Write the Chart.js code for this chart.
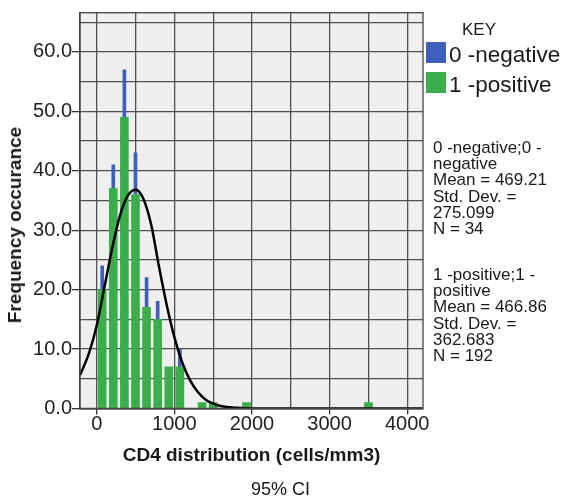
<!DOCTYPE html>
<html>
<head>
<meta charset="utf-8">
<script src="https://cdn.jsdelivr.net/npm/chart.js@4.4.1/dist/chart.umd.min.js"></script>
<style>
  body { margin: 0; background: #fff; font-family: "Liberation Sans", Arial, sans-serif; color: #1a1a1a; }
  #wrap { position: relative; width: 564px; height: 501px; }
  #wrap canvas { position: absolute; left: 0; top: 0; }
  .note { position: absolute; white-space: nowrap; }
  .key-title { left: 462px; top: 20px; font-size: 17px; line-height: 20px; }
  .swatch { position: absolute; left: 426px; width: 20px; height: 21px; }
  .key-label { left: 449px; font-size: 22.5px; line-height: 22px; }
  .stats { left: 433px; font-size: 17px; line-height: 16.2px; }
  .caption { left: 251px; top: 479px; font-size: 18px; line-height: 20px; }
  .ytitle { left: 15px; top: 225px; font-size: 19px; font-weight: bold; line-height: 22px;
            transform: translate(-50%, -50%) rotate(-90deg); }
</style>
</head>
<body>
<div id="wrap">
  <canvas id="cd4Chart" width="564" height="501"></canvas>
  <div class="note ytitle">Frequency occurance</div>
  <div class="note key-title">KEY</div>
  <div class="swatch" style="top:42px;background:#3f5fbd"></div>
  <div class="note key-label" style="top:44px">0 -negative</div>
  <div class="swatch" style="top:72px;background:#3aae4a"></div>
  <div class="note key-label" style="top:74px">1 -positive</div>
  <div class="note stats" style="top:140px">0 -negative;0 -<br>negative<br>Mean = 469.21<br>Std. Dev. =<br>275.099<br>N = 34</div>
  <div class="note stats" style="top:267px">1 -positive;1 -<br>positive<br>Mean = 466.86<br>Std. Dev. =<br>362.683<br>N = 192</div>
  <div class="note caption">95% CI</div>
</div>
<script>
// histogram bins (cells/mm3, bin centres) and counts per group
const binCenters = [70, 213, 356, 499, 642, 785, 928, 1071, 1357, 1500, 1929, 3502];
const positiveCounts = [20, 37, 49, 36, 17, 15, 7, 7, 1, 1, 1, 1];
const negativeCounts = [4, 4, 8, 7, 5, 3, 0, 3, 0, 0, 0, 0];

// normal curve
const curveX = [-216, -100, 0, 100, 200, 300, 400, 500, 600, 700, 800, 900, 1000, 1100, 1200, 1300, 1400, 1500, 1600, 1800, 2000, 3000, 4000, 4204];
const curveY = [5.6, 9.3, 14, 20.5, 27, 32.5, 35.8, 36.8, 35.3, 31, 24, 17.5, 12, 7.8, 4.8, 2.8, 1.5, 0.8, 0.4, 0.1, 0, 0, 0, 0];

const xTickLabels = [0, 1000, 2000, 3000, 4000];
const yTickLabels = [0, 10, 20, 30, 40, 50, 60];

const plotFrame = {
    id: 'plotFrame',
    beforeDraw(chart) {
        const a = chart.chartArea, c = chart.ctx;
        c.save();
        c.fillStyle = '#efefef';
        c.fillRect(a.left, a.top, a.right - a.left, a.bottom - a.top);
        c.restore();
    },
    afterDraw(chart) {
        const a = chart.chartArea, c = chart.ctx;
        c.save();
        c.strokeStyle = '#444';
        c.lineWidth = 1.3;
        c.strokeRect(a.left, a.top, a.right - a.left, a.bottom - a.top);
        c.restore();
    }
};

// grid every half step between labelled ticks
function halfSteps(scale, step) {
    const ticks = [];
    for (let v = Math.ceil(scale.min / step) * step; v <= scale.max; v += step) {
        ticks.push({ value: v });
    }
    scale.ticks = ticks;
}

const ctx = document.getElementById('cd4Chart').getContext('2d');
const tickFont = { family: '"Liberation Sans", Arial, sans-serif', size: 20 };
const titleFont = { family: '"Liberation Sans", Arial, sans-serif', size: 19, weight: 'bold' };

new Chart(ctx, {
    type: 'bar',
    data: {
        datasets: [{
            type: 'line',
            label: 'Normal',
            data: curveX.map((x, i) => ({ x: x, y: curveY[i] })),
            borderColor: '#000',
            borderWidth: 2.5,
            pointRadius: 0,
            cubicInterpolationMode: 'monotone',
            stack: 'curve',
            order: 0
        }, {
            label: '1 -positive',
            data: binCenters.map((x, i) => ({ x: x, y: positiveCounts[i] })),
            backgroundColor: '#3aae4a',
            barThickness: 8,
            stack: 'hist',
            order: 1
        }, {
            label: '0 -negative',
            data: binCenters.map((x, i) => ({ x: x, y: negativeCounts[i] || null })),
            backgroundColor: '#3f5fbd',
            barThickness: 3,
            stack: 'hist',
            order: 1
        }]
    },
    options: {
        responsive: false,
        animation: false,
        devicePixelRatio: 1,
        layout: { padding: { top: 12.7, right: 141, bottom: 29.6, left: 0 } },
        plugins: {
            legend: { display: false },
            tooltip: { enabled: false }
        },
        scales: {
            x: {
                type: 'linear',
                min: -216,
                max: 4204,
                offset: false,
                stacked: true,
                afterBuildTicks: (s) => halfSteps(s, 500),
                afterFit: (s) => { s.height = 63; },
                grid: {
                    offset: false,
                    color: '#505050',
                    lineWidth: 1.3,
                    tickLength: 6,
                    tickColor: (c) => xTickLabels.includes(c.tick && c.tick.value) ? '#333' : 'rgba(0,0,0,0)'
                },
                border: { color: '#222', width: 1.6 },
                ticks: {
                    autoSkip: false,
                    maxRotation: 0,
                    padding: -2,
                    color: '#222',
                    font: tickFont,
                    callback: (v) => xTickLabels.includes(v) ? String(v) : ''
                },
                title: { display: true, text: 'CD4 distribution (cells/mm3)', color: '#1a1a1a', font: titleFont }
            },
            y: {
                min: 0,
                max: 66.6,
                stacked: true,
                afterBuildTicks: (s) => halfSteps(s, 5),
                afterFit: (s) => { s.width = 80; },
                grid: {
                    color: '#505050',
                    lineWidth: 1.3,
                    tickLength: 8,
                    tickColor: (c) => yTickLabels.includes(c.tick && c.tick.value) ? '#333' : 'rgba(0,0,0,0)'
                },
                border: { color: '#444', width: 1.3 },
                ticks: {
                    autoSkip: false,
                    padding: 0,
                    color: '#222',
                    font: tickFont,
                    callback: (v) => yTickLabels.includes(v) ? v.toFixed(1) : ''
                },
                title: { display: false }
            }
        }
    },
    plugins: [plotFrame]
});
</script>
</body>
</html>
